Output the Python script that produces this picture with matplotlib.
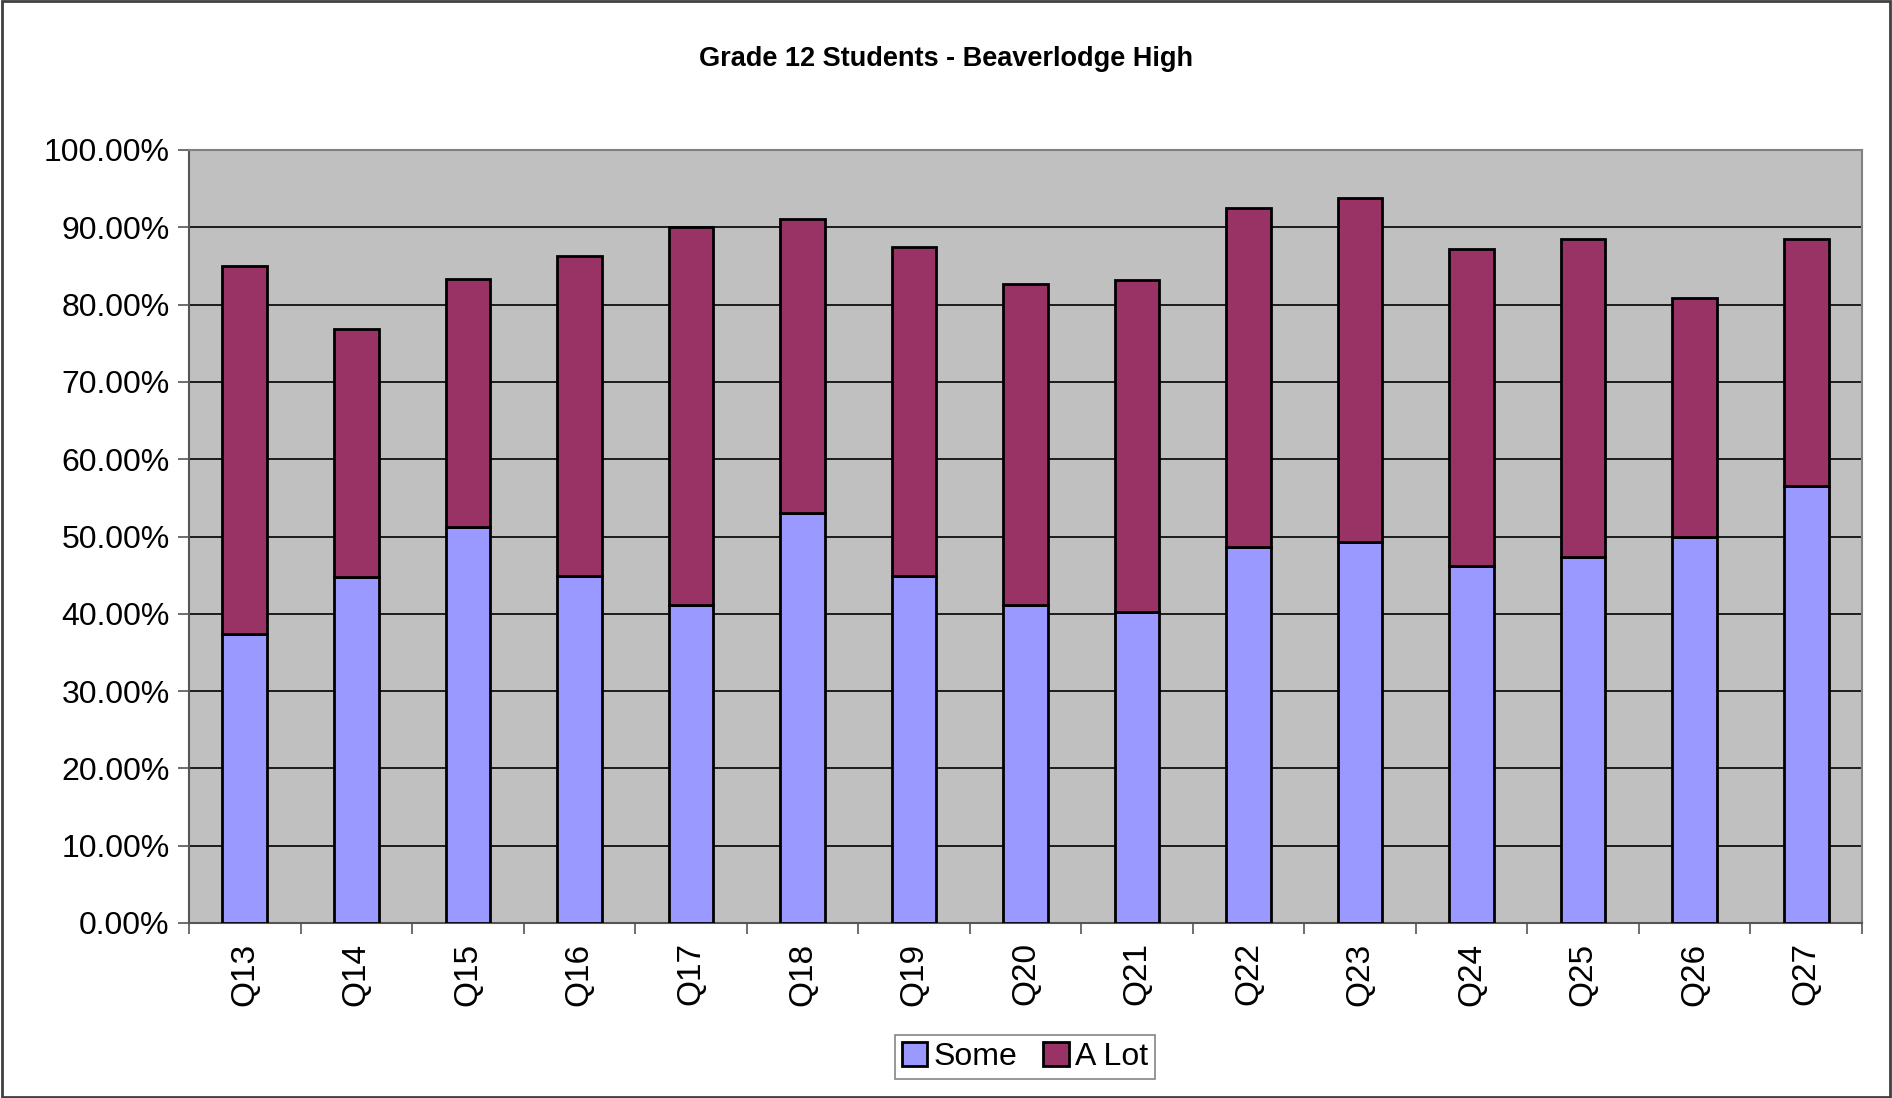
import numpy as np
import matplotlib.pyplot as plt
from matplotlib.ticker import FuncFormatter, FixedLocator

# DATA
questions = ["Q13", "Q14", "Q15", "Q16", "Q17", "Q18", "Q19", "Q20",
             "Q21", "Q22", "Q23", "Q24", "Q25", "Q26", "Q27"]
some = [37.4, 44.8, 51.2, 44.9, 41.2, 53.0, 44.9, 41.2,
        40.2, 48.7, 49.3, 46.2, 47.4, 49.9, 56.5]
total = [85.0, 76.9, 83.3, 86.3, 90.0, 91.1, 87.5, 82.7,
         83.2, 92.5, 93.8, 87.2, 88.5, 80.8, 88.5]
a_lot = [t - s for t, s in zip(total, some)]

plt.rcParams['font.family'] = ['Liberation Sans', 'DejaVu Sans']

fig = plt.figure(figsize=(18.92, 10.98), dpi=100)
ax = fig.add_axes([189/1892, 1 - 923/1098, (1862-189)/1892, (923-150)/1098])

x = np.arange(len(questions))
ax.bar(x, some, width=0.4, color="#9999FF", edgecolor="black", linewidth=2, label="Some", zorder=3)
ax.bar(x, a_lot, width=0.4, bottom=some, color="#993366", edgecolor="black", linewidth=2, label="A Lot", zorder=3)

ax.set_facecolor("#C0C0C0")
ax.set_xlim(-0.5, len(questions) - 0.5)
ax.set_ylim(0, 100)
ax.set_yticks(np.arange(0, 101, 10))
ax.yaxis.set_major_formatter(FuncFormatter(lambda v, p: f"{v:.2f}%"))
ax.grid(axis="y", color="black", linewidth=1.2, zorder=1)

# category labels at centres, tick marks between categories
ax.xaxis.set_major_locator(FixedLocator(np.arange(-0.5, len(questions), 1)))
ax.xaxis.set_minor_locator(FixedLocator(x))
ax.set_xticklabels([])
ax.set_xticklabels(questions, minor=True, rotation=90, fontsize=24)
ax.tick_params(axis="x", which="major", length=8, width=1.2, color="#555555")
ax.tick_params(axis="x", which="minor", length=0, pad=14)
ax.tick_params(axis="y", labelsize=23, length=8, width=1.2, color="#555555", pad=6)

for s in ["top", "right"]:
    ax.spines[s].set_color("#808080")
    ax.spines[s].set_linewidth(1.5)
ax.spines["left"].set_color("#555555")
ax.spines["left"].set_linewidth(1.5)
ax.spines["bottom"].set_color("#555555")
ax.spines["bottom"].set_linewidth(1.5)

fig.text(0.5, 1 - 59/1098, "Grade 12 Students - Beaverlodge High", ha="center", va="center",
         fontsize=19.5, fontweight="bold")

leg = fig.legend(loc="center", bbox_to_anchor=(1025/1892, 1 - 1057/1098), ncol=2, fontsize=23,
                 frameon=True, fancybox=False, edgecolor="#666666", handlelength=0.8,
                 handleheight=0.8, handletextpad=0.2, columnspacing=0.8, borderpad=0.2)
leg.get_frame().set_linewidth(1.2)
for h in leg.legend_handles:
    h.set_linewidth(2)

# outer chart border
fig.patches.append(plt.Rectangle((0.001, 0.001), 0.998, 0.998, transform=fig.transFigure,
                                 fill=False, edgecolor="#404040", linewidth=2))

plt.savefig("out.png", dpi=100)
